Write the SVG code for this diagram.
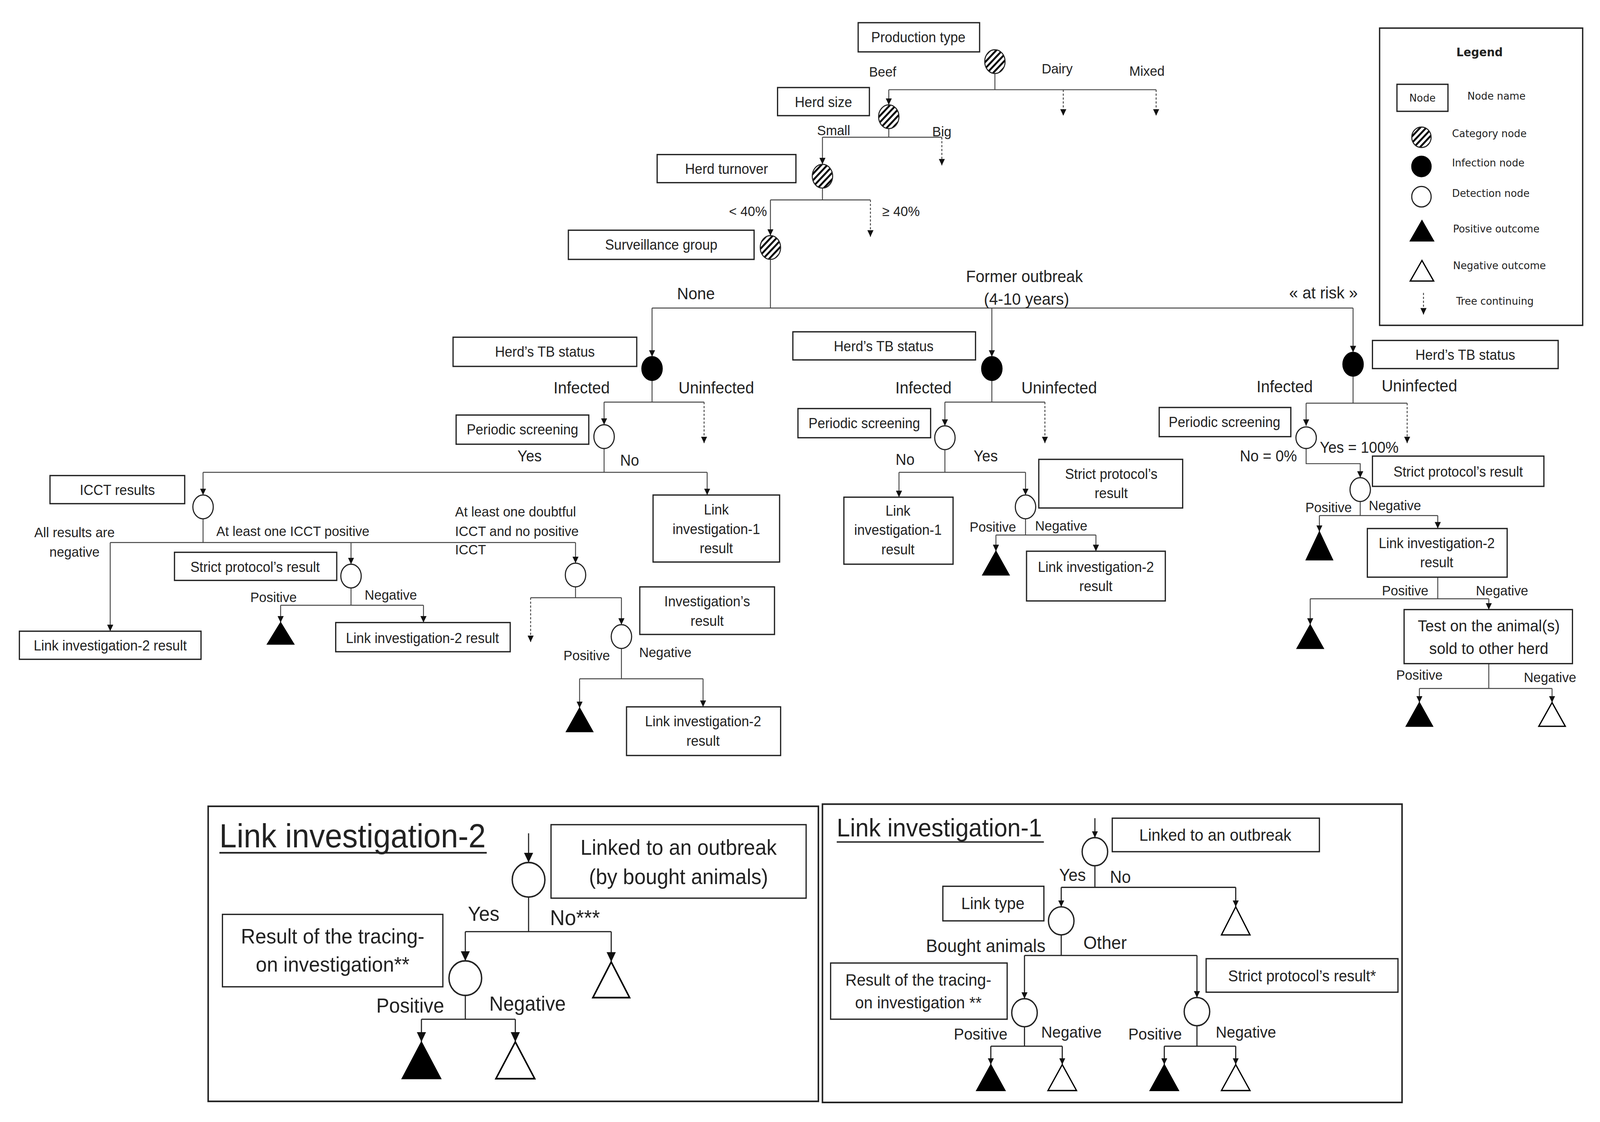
<svg xmlns="http://www.w3.org/2000/svg" width="4338" height="2872" viewBox="0 0 4338 2872" preserveAspectRatio="none" style="width:100vw;height:100vh;display:block">
<defs>
<style>
.box{fill:#fff;stroke:#222;stroke-width:1.2}
.frame{fill:none;stroke:#222;stroke-width:1.5}
.ln{fill:none;stroke:#444;stroke-width:0.9}
.lk{fill:none;stroke:#222;stroke-width:1.1}
.ar{marker-end:url(#ah)}
.arL{marker-end:url(#ahL)}
.ds{stroke-dasharray:2 1.6}
.t{font-family:"Liberation Sans",Arial,sans-serif;fill:#222}
.c{text-anchor:middle}
.b13{font-size:13.3px}
.s13{font-size:13px}
.s15{font-size:15.5px}
.s14{font-size:14.5px}
.lg{font-family:"DejaVu Sans",Verdana,sans-serif;font-size:9.9px;fill:#222}
.hat{fill:url(#hatch);stroke:#222;stroke-width:1}
.inf{fill:#000;stroke:#000;stroke-width:1}
.det{fill:#fff;stroke:#222;stroke-width:1.1}
.pos{fill:#000;stroke:#000;stroke-width:1}
.neg{fill:#fff;stroke:#000;stroke-width:1.2}
</style>
<pattern id="hatch" patternUnits="userSpaceOnUse" width="4.2" height="4.2" patternTransform="rotate(-45)">
<rect width="4.2" height="4.2" fill="#fff"/>
<rect width="4.2" height="1.8" fill="#000"/>
</pattern>
<marker id="ah" viewBox="0 0 10 10" refX="10" refY="5" markerWidth="6" markerHeight="6" markerUnits="userSpaceOnUse" orient="auto">
<path d="M0,0 L10,5 L0,10 z" fill="#111"/>
</marker>
<marker id="ahL" viewBox="0 0 10 10" refX="10" refY="5" markerWidth="9" markerHeight="9" markerUnits="userSpaceOnUse" orient="auto">
<path d="M0,0 L10,5 L0,10 z" fill="#111"/>
</marker>
</defs>
<rect width="4338" height="2872" fill="#fff"/>
<g transform="scale(2.7666)">

<g id="inset-link-investigation-2">
<rect class="frame" x="204" y="746" width="598" height="273"/>
<text class="t" x="215" y="784" style="font-size:30.5px">Link investigation-2</text>
<line x1="215" y1="789" x2="477" y2="789" stroke="#222" stroke-width="1.5"/>
</g>
<g id="inset-link-investigation-1">
<rect class="frame" x="806" y="744" width="568" height="276"/>
<text class="t" x="820" y="774" style="font-size:23.5px">Link investigation-1</text>
<line x1="820" y1="779" x2="1023" y2="779" stroke="#222" stroke-width="1.3"/>
</g>

<g id="connectors">
<path class="ln" d="M975 68V83M871 83H1133"/>
<path class="ln ar" d="M871 83V97"/>
<path class="ln ds ar" d="M1042 83V107"/>
<path class="ln ds ar" d="M1133 83V107"/>
<path class="ln" d="M871 119V127M806 127H923"/>
<path class="ln ar" d="M806 127V152"/>
<path class="ln ds ar" d="M923 127V153"/>
<path class="ln" d="M806 174V185M755 185H853"/>
<path class="ln ar" d="M755 185V218"/>
<path class="ln ds ar" d="M853 185V219"/>
<path class="ln" d="M755 240V285M639 285H1326"/>
<path class="ln ar" d="M639 285V330"/>
<path class="ln ar" d="M972 285V330"/>
<path class="ln ar" d="M1326 285V326"/>

<path class="ln" d="M639 352V372M592 372H690"/>
<path class="ln ar" d="M592 372V393"/>
<path class="ln ds ar" d="M690 372V410"/>
<path class="ln" d="M592 415V437M199 437H693"/>
<path class="ln ar" d="M693 437V458"/>
<path class="ln ar" d="M199 437V458"/>
<path class="ln" d="M199 480V502M108 502H564"/>
<path class="ln ar" d="M108 502V584"/>
<path class="ln ar" d="M344 502V522"/>
<path class="ln ar" d="M564 502V521"/>
<path class="ln" d="M344 544V560M275 560H415"/>
<path class="ln ar" d="M275 560V576"/>
<path class="ln ar" d="M415 560V576"/>
<path class="ln" d="M564 543V553M520 553H609"/>
<path class="ln ds ar" d="M520 553V594"/>
<path class="ln ar" d="M609 553V578"/>
<path class="ln" d="M609 600V628M568 628H689"/>
<path class="ln ar" d="M568 628V655"/>
<path class="ln ar" d="M689 628V654"/>

<path class="ln" d="M972 352V372M926 372H1024"/>
<path class="ln ar" d="M926 372V394"/>
<path class="ln ds ar" d="M1024 372V410"/>
<path class="ln" d="M926 416V437M881 437H1005"/>
<path class="ln ar" d="M881 437V460"/>
<path class="ln ar" d="M1005 437V458"/>
<path class="ln" d="M1005 480V495M976 495H1074"/>
<path class="ln ar" d="M976 495V510"/>
<path class="ln ar" d="M1074 495V510"/>

<path class="ln" d="M1326 348V373M1280 373H1379"/>
<path class="ln ar" d="M1280 373V394"/>
<path class="ln ds ar" d="M1379 373V410"/>
<path class="ln ar" d="M1280 415V429H1333V442"/>
<path class="ln" d="M1333 464V477M1293 477H1409"/>
<path class="ln ar" d="M1293 477V492"/>
<path class="ln ar" d="M1409 477V489"/>
<path class="ln" d="M1409 534V554M1284 554H1459"/>
<path class="ln ar" d="M1284 554V578"/>
<path class="ln ar" d="M1459 554V564"/>
<path class="ln" d="M1459 614V637M1391 637H1521"/>
<path class="ln ar" d="M1391 637V650"/>
<path class="ln ar" d="M1521 637V650"/>

<path class="lk arL" d="M518 771V798"/>
<path class="lk" d="M518 830V862M456 862H599"/>
<path class="lk arL" d="M456 862V889"/>
<path class="lk arL" d="M599 862V890"/>
<path class="lk" d="M456 921V943M413 943H505"/>
<path class="lk arL" d="M413 943V964"/>
<path class="lk arL" d="M505 943V964"/>

<path class="lk ar" d="M1073 757V775"/>
<path class="lk" d="M1073 801V821M1040 821H1211"/>
<path class="lk ar" d="M1211 821V839"/>
<path class="lk ar" d="M1040 821V839"/>
<path class="lk" d="M1040 865V884M1004 884H1173"/>
<path class="lk ar" d="M1004 884V924"/>
<path class="lk ar" d="M1173 884V923"/>
<path class="lk" d="M1004 950V968M971 968H1041"/>
<path class="lk ar" d="M971 968V985"/>
<path class="lk ar" d="M1041 968V985"/>
<path class="lk" d="M1173 949V968M1141 968H1211"/>
<path class="lk ar" d="M1141 968V985"/>
<path class="lk ar" d="M1211 968V985"/>
</g>

<g id="branch-labels" class="t">
<text class="s13 c" x="865" y="71">Beef</text>
<text class="s13 c" x="1036" y="68">Dairy</text>
<text class="s13 c" x="1124" y="70">Mixed</text>
<text class="s13 c" x="817" y="125">Small</text>
<text class="s13 c" x="923" y="126">Big</text>
<text class="s13 c" x="733" y="200">&lt; 40%</text>
<text class="s13 c" x="883" y="200">≥ 40%</text>
<text class="s15 c" x="682" y="277">None</text>
<text class="s15 c" x="1004" y="261">Former outbreak</text>
<text class="s15 c" x="1006" y="282">(4-10 years)</text>
<text class="s15 c" x="1297" y="276">« at risk »</text>

<text class="s15 c" x="570" y="364">Infected</text>
<text class="s15 c" x="702" y="364">Uninfected</text>
<text class="s14 c" x="519" y="427">Yes</text>
<text class="s14 c" x="617" y="431">No</text>
<text class="s13 c" x="73" y="497">All results are</text>
<text class="s13 c" x="73" y="515">negative</text>
<text class="s13" x="212" y="496">At least one ICCT positive</text>
<text class="s13" x="446" y="478">At least one doubtful</text>
<text class="s13" x="446" y="496">ICCT and no positive</text>
<text class="s13" x="446" y="513">ICCT</text>
<text class="s13 c" x="268" y="557">Positive</text>
<text class="s13 c" x="383" y="555">Negative</text>
<text class="s13 c" x="575" y="611">Positive</text>
<text class="s13 c" x="652" y="608">Negative</text>

<text class="s15 c" x="905" y="364">Infected</text>
<text class="s15 c" x="1038" y="364">Uninfected</text>
<text class="s14 c" x="887" y="430">No</text>
<text class="s14 c" x="966" y="427">Yes</text>
<text class="s13 c" x="973" y="492">Positive</text>
<text class="s13 c" x="1040" y="491">Negative</text>

<text class="s15 c" x="1259" y="363">Infected</text>
<text class="s15 c" x="1391" y="362">Uninfected</text>
<text class="s14 c" x="1243" y="427">No = 0%</text>
<text class="s14 c" x="1332" y="419">Yes = 100%</text>
<text class="s13 c" x="1302" y="474">Positive</text>
<text class="s13 c" x="1367" y="472">Negative</text>
<text class="s13 c" x="1377" y="551">Positive</text>
<text class="s13 c" x="1472" y="551">Negative</text>
<text class="s13 c" x="1391" y="629">Positive</text>
<text class="s13 c" x="1519" y="631">Negative</text>

<text class="c" x="474" y="852" style="font-size:19px">Yes</text>
<text x="539" y="856" style="font-size:20px">No***</text>
<text class="c" x="402" y="937" style="font-size:19px">Positive</text>
<text class="c" x="517" y="935" style="font-size:19px">Negative</text>

<text class="c" x="1051" y="815" style="font-size:16px">Yes</text>
<text class="c" x="1098" y="817" style="font-size:16px">No</text>
<text class="c" x="966" y="881" style="font-size:17px">Bought animals</text>
<text class="c" x="1083" y="878" style="font-size:17px">Other</text>
<text class="c" x="961" y="962" style="font-size:15px">Positive</text>
<text class="c" x="1050" y="960" style="font-size:15px">Negative</text>
<text class="c" x="1132" y="962" style="font-size:15px">Positive</text>
<text class="c" x="1221" y="960" style="font-size:15px">Negative</text>
</g>

<g id="node-production-type">
<rect class="box" x="841" y="21" width="119" height="27"/>
<text class="t b13 c" x="900" y="39">Production type</text>
<ellipse class="hat" cx="975" cy="57" rx="10" ry="11"/>
</g>
<g id="node-herd-size">
<rect class="box" x="762" y="81" width="90" height="26"/>
<text class="t b13 c" x="807" y="99">Herd size</text>
<ellipse class="hat" cx="871" cy="108" rx="10" ry="11"/>
</g>
<g id="node-herd-turnover">
<rect class="box" x="644" y="143" width="136" height="26"/>
<text class="t b13 c" x="712" y="161">Herd turnover</text>
<ellipse class="hat" cx="806" cy="163" rx="10" ry="11"/>
</g>
<g id="node-surveillance-group">
<rect class="box" x="557" y="213" width="182" height="27"/>
<text class="t b13 c" x="648" y="231">Surveillance group</text>
<ellipse class="hat" cx="755" cy="229" rx="10" ry="11"/>
</g>

<g id="node-tb-status-none">
<rect class="box" x="444" y="312" width="180" height="27"/>
<text class="t b13 c" x="534" y="330">Herd’s TB status</text>
<ellipse class="inf" cx="639" cy="341" rx="10" ry="11"/>
</g>
<g id="node-screening-none">
<rect class="box" x="447" y="384" width="130" height="27"/>
<text class="t b13 c" x="512" y="402">Periodic screening</text>
<ellipse class="det" cx="592" cy="404" rx="10" ry="11"/>
</g>
<g id="node-icct">
<rect class="box" x="49" y="440" width="132" height="26"/>
<text class="t b13 c" x="115" y="458">ICCT results</text>
<ellipse class="det" cx="199" cy="469" rx="10" ry="11"/>
</g>
<g id="node-link1-none">
<rect class="box" x="640" y="458" width="124" height="62"/>
<text class="t b13 c" x="702" y="476">Link</text>
<text class="t b13 c" x="702" y="494">investigation-1</text>
<text class="t b13 c" x="702" y="512">result</text>
</g>
<g id="node-strict-none">
<rect class="box" x="171" y="511" width="159" height="26"/>
<text class="t b13 c" x="250" y="529">Strict protocol’s result</text>
<ellipse class="det" cx="344" cy="533" rx="10" ry="11"/>
</g>
<g id="node-link2-neg">
<rect class="box" x="19" y="584" width="178" height="26"/>
<text class="t b13 c" x="108" y="602">Link investigation-2 result</text>
</g>
<g id="node-pos-strict-none">
<polygon class="pos" points="275,576 262,596 288,596"/>
</g>
<g id="node-link2-strict-none">
<rect class="box" x="329" y="576" width="171" height="27"/>
<text class="t b13 c" x="414" y="595">Link investigation-2 result</text>
</g>
<g id="node-doubtful">
<ellipse class="det" cx="564" cy="532" rx="10" ry="11"/>
</g>
<g id="node-investigation">
<rect class="box" x="627" y="543" width="132" height="44"/>
<text class="t b13 c" x="693" y="561">Investigation’s</text>
<text class="t b13 c" x="693" y="579">result</text>
<ellipse class="det" cx="609" cy="589" rx="10" ry="11"/>
</g>
<g id="node-pos-investigation">
<polygon class="pos" points="568,655 555,677 581,677"/>
</g>
<g id="node-link2-investigation">
<rect class="box" x="614" y="654" width="151" height="45"/>
<text class="t b13 c" x="689" y="672">Link investigation-2</text>
<text class="t b13 c" x="689" y="690">result</text>
</g>

<g id="node-tb-status-former">
<rect class="box" x="777" y="307" width="179" height="26"/>
<text class="t b13 c" x="866" y="325">Herd’s TB status</text>
<ellipse class="inf" cx="972" cy="341" rx="10" ry="11"/>
</g>
<g id="node-screening-former">
<rect class="box" x="782" y="378" width="130" height="27"/>
<text class="t b13 c" x="847" y="396">Periodic screening</text>
<ellipse class="det" cx="926" cy="405" rx="10" ry="11"/>
</g>
<g id="node-link1-former">
<rect class="box" x="827" y="460" width="107" height="62"/>
<text class="t b13 c" x="880" y="477">Link</text>
<text class="t b13 c" x="880" y="495">investigation-1</text>
<text class="t b13 c" x="880" y="513">result</text>
</g>
<g id="node-strict-former">
<rect class="box" x="1018" y="425" width="141" height="45"/>
<text class="t b13 c" x="1089" y="443">Strict protocol’s</text>
<text class="t b13 c" x="1089" y="461">result</text>
<ellipse class="det" cx="1005" cy="469" rx="10" ry="11"/>
</g>
<g id="node-pos-strict-former">
<polygon class="pos" points="976,510 963,532 989,532"/>
</g>
<g id="node-link2-former">
<rect class="box" x="1006" y="510" width="136" height="46"/>
<text class="t b13 c" x="1074" y="529">Link investigation-2</text>
<text class="t b13 c" x="1074" y="547">result</text>
</g>

<g id="node-tb-status-risk">
<rect class="box" x="1345" y="315" width="182" height="26"/>
<text class="t b13 c" x="1436" y="333">Herd’s TB status</text>
<ellipse class="inf" cx="1326" cy="337" rx="10" ry="11"/>
</g>
<g id="node-screening-risk">
<rect class="box" x="1136" y="377" width="129" height="27"/>
<text class="t b13 c" x="1200" y="395">Periodic screening</text>
<ellipse class="det" cx="1280" cy="405" rx="10" ry="10"/>
</g>
<g id="node-strict-risk">
<rect class="box" x="1345" y="422" width="168" height="28"/>
<text class="t b13 c" x="1429" y="441">Strict protocol’s result</text>
<ellipse class="det" cx="1333" cy="453" rx="10" ry="11"/>
</g>
<g id="node-pos-strict-risk">
<polygon class="pos" points="1293,492 1280,518 1306,518"/>
</g>
<g id="node-link2-risk">
<rect class="box" x="1340" y="489" width="137" height="45"/>
<text class="t b13 c" x="1408" y="507">Link investigation-2</text>
<text class="t b13 c" x="1408" y="525">result</text>
</g>
<g id="node-pos-link2-risk">
<polygon class="pos" points="1284,578 1271,600 1297,600"/>
</g>
<g id="node-test-sold">
<rect class="box" x="1376" y="564" width="165" height="50"/>
<text class="t c" x="1459" y="584" style="font-size:15px">Test on the animal(s)</text>
<text class="t c" x="1459" y="605" style="font-size:15px">sold to other herd</text>
</g>
<g id="node-pos-test">
<polygon class="pos" points="1391,650 1378,672 1404,672"/>
</g>
<g id="node-neg-test">
<polygon class="neg" points="1521,650 1508,672 1534,672"/>
</g>

<g id="legend">
<rect class="box" x="1352" y="26" width="199" height="275" style="stroke-width:1.3"/>
<text class="lg c" x="1450" y="52" style="font-weight:bold;font-size:11px">Legend</text>
<rect class="box" x="1369" y="78" width="50" height="25"/>
<text class="lg c" x="1394" y="94">Node</text>
<text class="lg" x="1438" y="92">Node name</text>
<ellipse class="hat" cx="1393" cy="127" rx="9.5" ry="9.5"/>
<text class="lg" x="1423" y="127">Category node</text>
<ellipse class="inf" cx="1393" cy="154" rx="9.5" ry="9.5"/>
<text class="lg" x="1423" y="154">Infection node</text>
<ellipse class="det" cx="1393" cy="182" rx="9.5" ry="9.5"/>
<text class="lg" x="1423" y="182">Detection node</text>
<polygon class="pos" points="1393.5,204 1382,223 1405,223"/>
<text class="lg" x="1424" y="215">Positive outcome</text>
<polygon class="neg" points="1393.5,241 1382,260 1405,260"/>
<text class="lg" x="1424" y="249">Negative outcome</text>
<path class="ln ds ar" d="M1395 271V291"/>
<text class="lg" x="1427" y="282">Tree continuing</text>
</g>

<g id="node-l2-linked">
<rect class="box" x="540" y="763" width="250" height="68"/>
<text class="t c" x="665" y="791" style="font-size:20px">Linked to an outbreak</text>
<text class="t c" x="665" y="818" style="font-size:20px">(by bought animals)</text>
<ellipse class="det" cx="518" cy="814" rx="16" ry="16" style="stroke-width:1.4"/>
</g>
<g id="node-l2-tracing">
<rect class="box" x="218" y="846" width="216" height="67"/>
<text class="t c" x="326" y="873" style="font-size:19.5px">Result of the tracing-</text>
<text class="t c" x="326" y="899" style="font-size:19.5px">on investigation**</text>
<ellipse class="det" cx="456" cy="905" rx="16" ry="16" style="stroke-width:1.4"/>
</g>
<g id="node-l2-neg-no">
<polygon class="neg" points="599,890 581,923 617,923" style="stroke-width:1.5"/>
</g>
<g id="node-l2-pos">
<polygon class="pos" points="413,964 394,998 432,998"/>
</g>
<g id="node-l2-neg">
<polygon class="neg" points="505,964 486,998 524,998" style="stroke-width:1.5"/>
</g>

<g id="node-l1-linked">
<rect class="box" x="1090" y="757" width="203" height="31"/>
<text class="t c" x="1191" y="778" style="font-size:15.5px">Linked to an outbreak</text>
<ellipse class="det" cx="1073" cy="788" rx="12.5" ry="13" style="stroke-width:1.3"/>
</g>
<g id="node-l1-neg-no">
<polygon class="neg" points="1211,839 1197,865 1225,865"/>
</g>
<g id="node-l1-linktype">
<rect class="box" x="924" y="820" width="99" height="32"/>
<text class="t c" x="973" y="841" style="font-size:15.5px">Link type</text>
<ellipse class="det" cx="1040" cy="852" rx="12.5" ry="13" style="stroke-width:1.3"/>
</g>
<g id="node-l1-tracing">
<rect class="box" x="814" y="891" width="173" height="52"/>
<text class="t c" x="900" y="912" style="font-size:15.5px">Result of the tracing-</text>
<text class="t c" x="900" y="933" style="font-size:15.5px">on investigation **</text>
<ellipse class="det" cx="1004" cy="937" rx="12.5" ry="13" style="stroke-width:1.3"/>
</g>
<g id="node-l1-strict">
<rect class="box" x="1182" y="887" width="188" height="31"/>
<text class="t c" x="1276" y="908" style="font-size:14.6px">Strict protocol’s result*</text>
<ellipse class="det" cx="1173" cy="936" rx="12.5" ry="13" style="stroke-width:1.3"/>
</g>
<g id="node-l1-outcomes">
<polygon class="pos" points="971,985 957,1009 985,1009"/>
<polygon class="neg" points="1041,985 1027,1009 1055,1009"/>
<polygon class="pos" points="1141,985 1127,1009 1155,1009"/>
<polygon class="neg" points="1211,985 1197,1009 1225,1009"/>
</g>

</g>
</svg>
